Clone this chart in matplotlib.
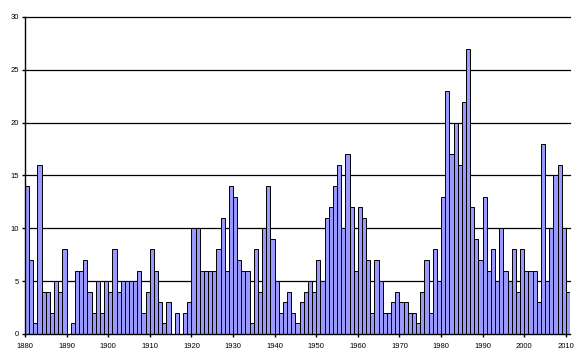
import matplotlib
matplotlib.use("Agg")
import matplotlib.pyplot as plt
import numpy as np

years = list(range(1880, 2011))
values = [
    14, 7, 1, 16, 4, 4, 2, 5, 4, 8,
    0, 1, 6, 6, 7, 4, 2, 5, 2, 5,
    4, 8, 4, 5, 5, 5, 5, 6, 2, 4,
    8, 6, 3, 1, 3, 0, 2, 0, 2, 3,
    10, 10, 6, 6, 6, 6, 8, 11, 6, 14,
    13, 7, 6, 6, 1, 8, 4, 10, 14, 9,
    5, 2, 3, 4, 2, 1, 3, 4, 5, 4,
    7, 5, 11, 12, 14, 16, 10, 17, 12, 6,
    12, 11, 7, 2, 7, 5, 2, 2, 3, 4,
    3, 3, 2, 2, 1, 4, 7, 2, 8, 5,
    13, 23, 17, 20, 16, 22, 27, 12, 9, 7,
    13, 6, 8, 5, 10, 6, 5, 8, 4, 8,
    6, 6, 6, 3, 18, 5, 10, 15, 16, 10,
    4,
]
xticks = list(range(1880, 2011, 10))
yticks = [0, 5, 10, 15, 20, 25, 30]

plt.rcParams['font.family'] = ['Liberation Sans', 'DejaVu Sans']

W, H = 582, 363
fig = plt.figure(figsize=(W / 100, H / 100), dpi=100)
ax = fig.add_axes([25 / W, (H - 334) / H, (570 - 25) / W, (334 - 17) / H])

ax.bar(years, values, width=1.0, align='edge', color='#9999FF',
       edgecolor='black', linewidth=0.7, zorder=3)

ax.set_xlim(1880, 2011)
ax.set_ylim(0, 30)
ax.set_yticks(yticks)
ax.set_xticks(xticks)
ax.set_xticklabels([str(t) for t in xticks], fontsize=5.5)
ax.set_yticklabels([str(t) for t in yticks], fontsize=5.5)

for y in yticks[1:]:
    ax.axhline(y, color='black', linewidth=0.9, zorder=1, clip_on=False)

for s in ['top', 'right']:
    ax.spines[s].set_visible(False)
for s in ['left', 'bottom']:
    ax.spines[s].set_linewidth(1.0)
    ax.spines[s].set_zorder(4)

ax.tick_params(axis='both', direction='out', length=2.5, width=1.0, pad=2, colors='black')
ax.tick_params(axis='x', pad=4)

fig.savefig('out.png', dpi=100)
